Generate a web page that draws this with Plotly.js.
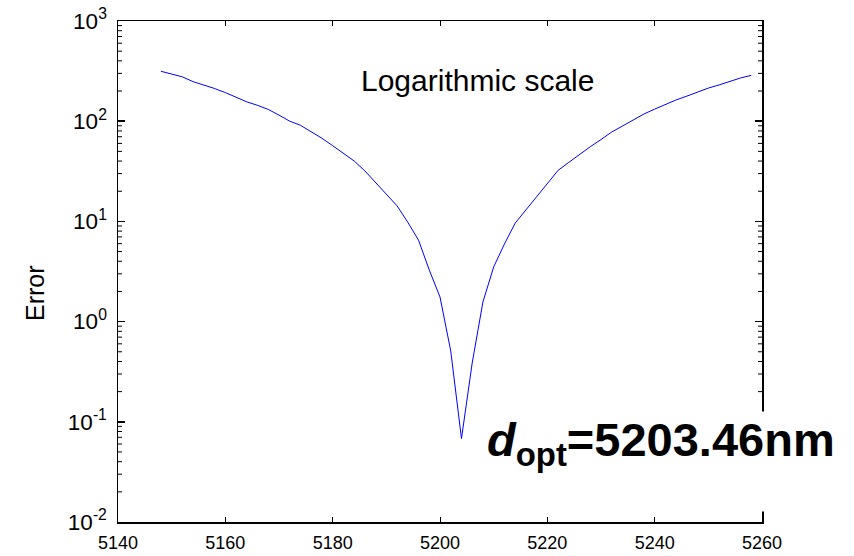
<!DOCTYPE html>
<html>
<head>
<meta charset="utf-8">
<script src="https://cdn.plot.ly/plotly-3.0.1.min.js"></script>
<style>html,body{margin:0;padding:0;background:#fff}#chart{width:854px;height:556px}</style>
</head>
<body>
<div id="chart"></div>
<script>
// Thickness d (nm)
const thickness = [5148,5150,5152,5154,5156,5158,5160,5162,5164,5166,5168,5170,5172,5174,5176,5178,5180,5182,5184,5186,5188,5190,5192,5194,5196,5198,5200,5202,5204,5206,5208,5210,5212,5214,5216,5218,5220,5222,5224,5226,5228,5230,5232,5234,5236,5238,5240,5242,5244,5246,5248,5250,5252,5254,5256,5258];
// Error values (log scale)
const errorValues = [315,296,277,248,231,212,193,174,156,144,131,115,100,91,79,67.6,57,48.2,40.1,31.9,24.3,18.6,14.3,9.8,6.5,3.27,1.76,0.51,0.068,0.386,1.57,3.51,5.94,9.6,13.0,17.5,24.0,32.3,38.8,46.7,55.6,65.6,78,89.5,103,118,132,147,163,178,195,214,230,249,270,287];
const xTickVals = [5140,5160,5180,5200,5220,5240,5260];
// tick label text for each decade
const yTickAlias = {
  '10<sup>\u22122</sup>': '10<sup>-2</sup>',
  '10<sup>\u22121</sup>': '10<sup>-1</sup>',
  '1': '10<sup>0</sup>',
  '10': '10<sup>1</sup>'
};
const decades = [-2, -1, 0, 1, 2];
const minorMultipliers = [2, 3, 4, 5, 6, 7, 8, 9];

const fontFam = 'Liberation Sans, Arial, sans-serif';

const trace = {
  x: thickness, y: errorValues, type: 'scatter', mode: 'lines',
  line: {color: '#0000ff', width: 1}, hoverinfo: 'skip'
};

// minor log tick marks (inside, on both left and right frame edges)
const plotW = 854 - 118 - 92;
const minorLen = 4 / plotW;
const shapes = [];
decades.forEach(d => minorMultipliers.forEach(m => {
  const v = m * Math.pow(10, d);
  shapes.push({type: 'line', xref: 'paper', yref: 'y', x0: 0, x1: minorLen, y0: v, y1: v, line: {color: '#000', width: 1}});
  shapes.push({type: 'line', xref: 'paper', yref: 'y', x0: 1 - minorLen, x1: 1, y0: v, y1: v, line: {color: '#000', width: 1}});
}));

const layout = {
  width: 854, height: 556,
  margin: {l: 118, r: 92, t: 21, b: 34},
  paper_bgcolor: '#fff', plot_bgcolor: '#fff',
  font: {family: fontFam, color: '#000', size: 18},
  showlegend: false,
  xaxis: {
    range: [5140, 5260], tickmode: 'array', tickvals: xTickVals,
    ticks: 'inside', ticklen: 5, tickwidth: 1, tickcolor: '#000',
    showline: true, linecolor: '#000', linewidth: 1.5, mirror: 'allticks',
    showgrid: false, zeroline: false, ticklabelstandoff: 4,
    tickfont: {size: 18, family: fontFam, color: '#000'}
  },
  yaxis: {
    type: 'log', range: [-2, 3], tickmode: 'linear', tick0: 0, dtick: 1,
    exponentformat: 'power', labelalias: yTickAlias,
    ticks: 'inside', ticklen: 7, tickwidth: 1.5, tickcolor: '#000',
    showline: true, linecolor: '#000', linewidth: 1.5, mirror: 'allticks',
    showgrid: false, zeroline: false, ticklabelstandoff: 6,
    tickfont: {size: 18, family: fontFam, color: '#000'}
  },
  shapes: shapes,
  annotations: [
    {text: 'Logarithmic scale', xref: 'paper', yref: 'paper', x: 0.559, y: 0.882,
     xanchor: 'center', yanchor: 'middle',
     showarrow: false, font: {size: 30, family: fontFam, color: '#000'}},
    {text: '<b><i>d</i><sub>opt</sub>=5203.46nm</b>', xref: 'paper', yref: 'paper', x: 0.843, y: 0.1208,
     xanchor: 'center', yanchor: 'middle', valign: 'top',
     showarrow: false, bgcolor: '#fff', height: 97, font: {size: 47, family: fontFam, color: '#000'}},
    {text: 'Error', xref: 'paper', yref: 'paper', x: -0.129, y: 0.457, textangle: -90,
     xanchor: 'center', yanchor: 'middle',
     showarrow: false, font: {size: 25, family: fontFam, color: '#000'}}
  ]
};

Plotly.newPlot('chart', [trace], layout, {staticPlot: true, displayModeBar: false});
</script>
</body>
</html>
